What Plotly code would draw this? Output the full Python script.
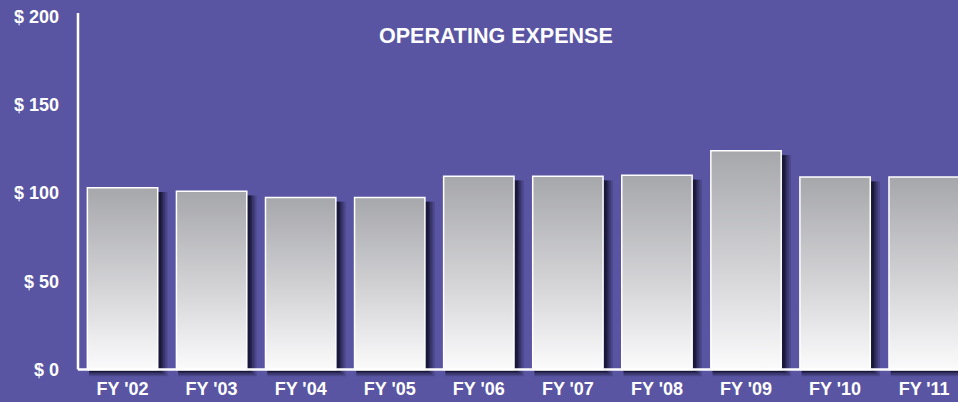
import plotly.graph_objects as go

years = ["FY '02", "FY '03", "FY '04", "FY '05", "FY '06", "FY '07", "FY '08", "FY '09", "FY '10", "FY '11"]
expense = [103, 101, 97.5, 97.5, 109.5, 109.5, 110, 124, 109, 109]
y_ticks = [0, 50, 100, 150, 200]
y_labels = ["$ 0", "$ 50", "$ 100", "$ 150", "$ 200"]

BG = "#5a55a2"
W = 0.79
pos = list(range(len(years)))

fig = go.Figure()

# soft drop shadow: a few stacked translucent bars
for ext, alpha in [(0.11, 0.18), (0.085, 0.26), (0.06, 0.38), (0.04, 0.5)]:
    fig.add_trace(go.Bar(
        x=pos, y=[v + ext * 35 - 2.5 for v in expense], base=-ext * 35,
        width=W + ext - 0.02, offset=-W / 2 + 0.02,
        marker=dict(color=f"rgba(12,10,35,{alpha})", line=dict(width=0)),
        hoverinfo="skip", showlegend=False,
    ))

# bars with vertical gradient
for i, v in zip(pos, expense):
    fig.add_trace(go.Scatter(
        x=[i - W / 2, i - W / 2, i + W / 2, i + W / 2, i - W / 2],
        y=[0, v, v, 0, 0],
        mode="lines", fill="toself",
        line=dict(color="white", width=1.5),
        fillgradient=dict(type="vertical", start=0, stop=v,
                          colorscale=[[0, "#fbfbfc"], [0.45, "#d4d4d7"], [1, "#a6a7ab"]]),
        hoverinfo="skip", showlegend=False,
    ))

fig.add_shape(type="line", xref="paper", yref="y", x0=0, x1=0, y0=0, y1=202,
              line=dict(color="white", width=2.5))
fig.add_shape(type="line", xref="paper", yref="y", x0=0, x1=1, y0=0, y1=0,
              line=dict(color="white", width=2.5))

fig.add_annotation(text="<b>OPERATING EXPENSE</b>", xref="paper", yref="paper",
                   x=0.475, y=0.975, showarrow=False,
                   font=dict(family="Liberation Sans", size=21.5, color="white"))

fig.update_layout(
    width=958, height=402,
    margin=dict(l=78, r=0, t=13, b=22),
    paper_bgcolor=BG, plot_bgcolor=BG,
    barmode="overlay",
    font=dict(family="Liberation Sans", size=18, color="white"),
    xaxis=dict(range=[-0.5, 9.38], tickvals=pos, ticktext=[f"<b>{t}</b>" for t in years],
               showgrid=False, zeroline=False, showline=False, ticks="",
               ticklabelstandoff=-4),
    yaxis=dict(range=[-6, 202], tickvals=y_ticks, ticktext=[f"<b>{t}</b>" for t in y_labels],
               showgrid=False, zeroline=False, showline=False, ticks="",
               ticklabelstandoff=18),
)

fig.write_html("out.html", config={"displayModeBar": False},
               post_script="document.body.style.margin='0';")
